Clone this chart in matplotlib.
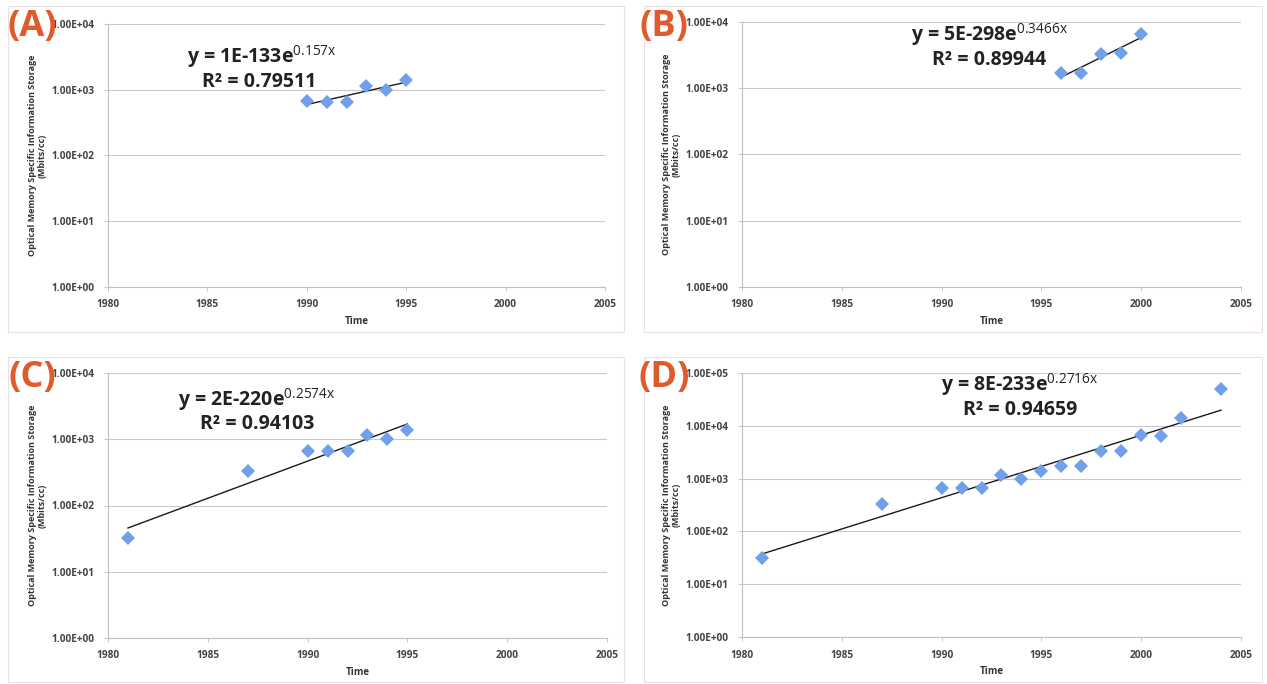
import numpy as np
import matplotlib
matplotlib.use("Agg")
import matplotlib.pyplot as plt
from matplotlib.ticker import FixedLocator, FuncFormatter
from matplotlib.patches import Rectangle

plt.rcParams['font.family'] = ['Open Sans', 'DejaVu Sans']
plt.rcParams['mathtext.fontset'] = 'custom'
plt.rcParams['mathtext.rm'] = 'Open Sans'
plt.rcParams['mathtext.bf'] = 'Open Sans:bold'

# ---------------- data ----------------
years_a = [1990, 1991, 1992, 1993, 1994, 1995]
vals_a = [670, 660, 660, 1150, 1000, 1400]

years_b = [1996, 1997, 1998, 1999, 2000]
vals_b = [1700, 1700, 3300, 3400, 6700]

years_c = [1981, 1987, 1990, 1991, 1992, 1993, 1994, 1995]
vals_c = [32, 330, 670, 660, 660, 1150, 1000, 1400]

years_d = [1981, 1987, 1990, 1991, 1992, 1993, 1994, 1995, 1996, 1997,
           1998, 1999, 2000, 2001, 2002, 2004]
vals_d = [32, 330, 670, 660, 660, 1150, 1000, 1400, 1700, 1700,
          3300, 3400, 6700, 6500, 14000, 50000]

panel_labels = ["(A)", "(B)", "(C)", "(D)"]
eq_exps = ["0.157x", "0.3466x", "0.2574x", "0.2716x"]
eq_bases = ["y = 1E-133e", "y = 5E-298e", "y = 2E-220e", "y = 8E-233e"]
r2_texts = ["R² = 0.79511", "R² = 0.89944", "R² = 0.94103", "R² = 0.94659"]
y_tops = [1e4, 1e4, 1e4, 1e5]
x_ticks = [1980, 1985, 1990, 1995, 2000, 2005]
y_label = "Optical Memory Specific Information Storage\n(Mbits/cc)"
x_label = "Time"

# ---------------- layout ----------------
W, H = 1267, 684
fig = plt.figure(figsize=(W / 100, H / 100), dpi=100)
fig.patch.set_facecolor('white')

# (left px, top px, right px, bottom px)
boxes = [(108, 24, 605, 287), (742, 22, 1241, 287),
         (108, 373, 607, 638), (742, 373, 1241, 637)]
# frames of the chart areas
frames = [(8, 6, 624, 332), (644, 6, 1262, 332),
          (8, 357, 624, 682), (644, 357, 1262, 682)]
eq_pos = [(262, 57, 259, 82), (990, 35, 989, 60),
          (257, 400, 257, 424), (1020, 385, 1020, 410)]
lab_pos = [(32, 27), (664, 27), (32, 378), (664, 378)]

data = [(years_a, vals_a), (years_b, vals_b), (years_c, vals_c), (years_d, vals_d)]

def fmt(v, pos):
    e = int(round(np.log10(v)))
    return "1.00E+%02d" % e

for i, (bx, (xs, ys)) in enumerate(zip(boxes, data)):
    fl, ft, fr, fb = frames[i]
    fig.add_artist(Rectangle((fl / W, 1 - fb / H), (fr - fl) / W, (fb - ft) / H,
                             transform=fig.transFigure, fill=False,
                             edgecolor='#EAE0E0', lw=0.8))
    l, t, r, b = bx
    ax = fig.add_axes([l / W, 1 - b / H, (r - l) / W, (b - t) / H])
    ax.set_yscale('log')
    ax.set_xlim(1980, 2005)
    ax.set_ylim(1, y_tops[i])
    decs = [10.0 ** k for k in range(int(np.log10(y_tops[i])) + 1)]
    ax.yaxis.set_major_locator(FixedLocator(decs))
    ax.yaxis.set_minor_locator(FixedLocator([]))
    ax.yaxis.set_major_formatter(FuncFormatter(fmt))
    ax.set_xticks(x_ticks)
    ax.grid(axis='y', color='#C9C9C9', lw=0.8)
    ax.set_axisbelow(True)
    for s in ['top', 'right']:
        ax.spines[s].set_visible(False)
    for s in ['left', 'bottom']:
        ax.spines[s].set_color('#C0C0C0')
        ax.spines[s].set_linewidth(0.8)
    ax.tick_params(axis='both', labelsize=7.3, colors='#C0C0C0',
                   labelcolor='#444444', length=3, width=0.6)
    ax.tick_params(axis='y', pad=7)
    ax.tick_params(axis='x', pad=6)
    for lab in ax.get_xticklabels() + ax.get_yticklabels():
        lab.set_fontweight('bold')

    xa = np.array(xs, dtype=float)
    ya = np.array(ys, dtype=float)
    coef = np.polyfit(xa, np.log(ya), 1)
    xf = np.array([xa.min(), xa.max()])
    ax.plot(xf, np.exp(np.polyval(coef, xf)), color='#1a1a1a', lw=1.0, zorder=2)
    ax.plot(xa, ya, 'D', color='#729FEA', markersize=7.5, markeredgewidth=0,
            zorder=3)

    ax.set_ylabel(y_label, fontsize=6.5, fontweight='bold', color='#333333',
                  labelpad=3, linespacing=1.2)
    ax.set_xlabel(x_label, fontsize=7, fontweight='bold', color='#333333',
                  labelpad=4)

    ex, ey, rx, ry = eq_pos[i]
    fig.text(ex / W, 1 - ey / H,
             eq_bases[i] + r"$^{\mathrm{" + eq_exps[i] + "}}$",
             ha='center', va='center', fontsize=14, fontweight='bold',
             color='#222222')
    fig.text(rx / W, 1 - ry / H, r2_texts[i], ha='center', va='center',
             fontsize=14, fontweight='bold', color='#222222')
    px, py = lab_pos[i]
    fig.text(px / W, 1 - py / H, panel_labels[i], ha='center', va='center',
             fontsize=26, fontweight='bold', color='#E05A2C', zorder=10)

fig.savefig("out.png", dpi=100, facecolor='white')
